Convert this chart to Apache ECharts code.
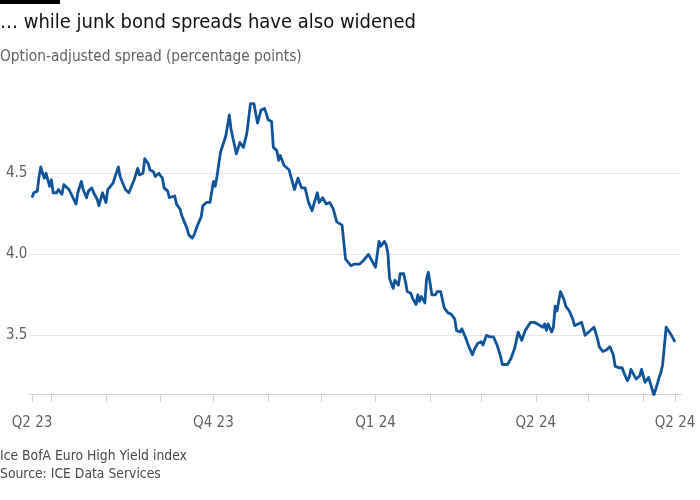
<!DOCTYPE html>
<html><head><meta charset="utf-8">
<script src="https://cdn.jsdelivr.net/npm/echarts@6/dist/echarts.min.js"></script>
<style>html,body{margin:0;padding:0;background:#fff}#c{width:700px;height:500px}</style>
</head><body><div id="c"></div>
<script>
const dates = [
'2023-06-20','2023-06-21','2023-06-23','2023-06-24','2023-06-25','2023-06-26','2023-06-27','2023-06-28','2023-06-30',
'2023-07-01','2023-07-02','2023-07-04','2023-07-05','2023-07-07','2023-07-08','2023-07-09','2023-07-11','2023-07-15','2023-07-16','2023-07-18','2023-07-19','2023-07-21','2023-07-22','2023-07-24','2023-07-25','2023-07-27','2023-07-28','2023-07-29','2023-07-30',
'2023-08-01','2023-08-02','2023-08-05','2023-08-06','2023-08-08','2023-08-09','2023-08-12','2023-08-14','2023-08-15','2023-08-17','2023-08-19','2023-08-20','2023-08-22','2023-08-23','2023-08-25','2023-08-26','2023-08-28','2023-08-29','2023-08-31',
'2023-09-02','2023-09-03','2023-09-05','2023-09-06','2023-09-09','2023-09-10','2023-09-12','2023-09-13','2023-09-14','2023-09-16','2023-09-17','2023-09-19','2023-09-20','2023-09-22','2023-09-24','2023-09-25','2023-09-27','2023-09-29',
'2023-10-01','2023-10-02','2023-10-03','2023-10-05','2023-10-08','2023-10-10','2023-10-11','2023-10-14','2023-10-16','2023-10-18','2023-10-20','2023-10-22','2023-10-24','2023-10-26','2023-10-27','2023-10-28','2023-10-30','2023-10-31',
'2023-11-01','2023-11-03','2023-11-04','2023-11-06','2023-11-07','2023-11-08','2023-11-10','2023-11-13','2023-11-14','2023-11-16','2023-11-18','2023-11-20','2023-11-22','2023-11-24','2023-11-26','2023-11-27','2023-11-29','2023-11-30',
'2023-12-02','2023-12-04','2023-12-06','2023-12-08','2023-12-10','2023-12-13','2023-12-14','2023-12-15','2023-12-16','2023-12-18','2023-12-20','2023-12-23','2023-12-25','2023-12-28','2023-12-30','2023-12-31',
'2024-01-01','2024-01-03','2024-01-04','2024-01-06','2024-01-07','2024-01-08','2024-01-09','2024-01-11','2024-01-12','2024-01-14','2024-01-15','2024-01-17','2024-01-18','2024-01-19','2024-01-21','2024-01-22','2024-01-24','2024-01-25','2024-01-26','2024-01-27','2024-01-29','2024-01-30','2024-01-31',
'2024-02-02','2024-02-04','2024-02-05','2024-02-07','2024-02-09','2024-02-11','2024-02-13','2024-02-15','2024-02-16','2024-02-18','2024-02-19','2024-02-21','2024-02-23','2024-02-25','2024-02-26','2024-02-28',
'2024-03-01','2024-03-02','2024-03-04','2024-03-06','2024-03-08','2024-03-10','2024-03-12','2024-03-13','2024-03-16','2024-03-18','2024-03-20','2024-03-22','2024-03-24','2024-03-25','2024-03-26','2024-03-27','2024-03-29','2024-03-31',
'2024-04-02','2024-04-03','2024-04-05','2024-04-06','2024-04-07','2024-04-08','2024-04-10','2024-04-11','2024-04-12','2024-04-13','2024-04-15','2024-04-17','2024-04-18','2024-04-20','2024-04-22','2024-04-23','2024-04-25','2024-04-27','2024-04-29','2024-04-30',
'2024-05-02','2024-05-04','2024-05-06','2024-05-07','2024-05-09','2024-05-11','2024-05-12','2024-05-13','2024-05-15','2024-05-16','2024-05-18','2024-05-20','2024-05-21','2024-05-23','2024-05-24','2024-05-25','2024-05-27','2024-05-28','2024-05-30','2024-05-31',
'2024-06-02','2024-06-04','2024-06-05','2024-06-06','2024-06-07','2024-06-09','2024-06-10','2024-06-11','2024-06-12','2024-06-14','2024-06-15','2024-06-17','2024-06-19'
];
const spread = [
4.35,4.38,4.39,4.48,4.54,4.50,4.47,4.50,4.42,
4.46,4.38,4.38,4.40,4.37,4.43,4.44,4.40,4.31,4.38,4.45,4.40,4.35,4.39,4.41,4.38,4.34,4.30,4.30,4.38,
4.32,4.40,4.44,4.44,4.54,4.48,4.40,4.38,4.39,4.46,4.53,4.49,4.50,4.59,4.56,4.52,4.51,4.48,4.50,
4.47,4.41,4.39,4.35,4.36,4.31,4.28,4.24,4.23,4.16,4.12,4.10,4.12,4.18,4.23,4.30,4.32,4.32,
4.45,4.42,4.48,4.63,4.73,4.86,4.77,4.62,4.69,4.66,4.75,4.93,4.93,4.81,4.80,4.89,4.90,4.87,
4.83,4.82,4.66,4.64,4.58,4.61,4.55,4.52,4.48,4.40,4.47,4.41,4.41,4.32,4.27,4.31,4.38,4.32,
4.35,4.31,4.32,4.28,4.20,4.18,4.17,3.97,3.96,3.93,3.94,3.94,3.96,4.00,3.96,3.96,
3.92,4.08,4.05,4.08,4.06,4.01,3.85,3.79,3.84,3.81,3.88,3.88,3.83,3.77,3.76,3.73,3.69,3.75,3.71,3.74,3.70,3.85,3.89,
3.75,3.75,3.77,3.77,3.67,3.64,3.63,3.60,3.53,3.52,3.54,3.49,3.43,3.38,3.41,3.45,
3.46,3.44,3.50,3.49,3.49,3.44,3.37,3.32,3.32,3.36,3.42,3.52,3.47,3.48,3.53,3.52,3.58,3.58,
3.57,3.58,3.55,3.57,3.53,3.57,3.52,3.55,3.68,3.65,3.77,3.72,3.68,3.65,3.60,3.56,3.57,3.58,3.50,3.51,
3.53,3.55,3.48,3.43,3.40,3.41,3.40,3.43,3.38,3.31,3.30,3.30,3.27,3.22,3.24,3.29,3.25,3.23,3.25,3.29,
3.21,3.24,3.24,3.17,3.13,3.20,3.24,3.27,3.32,3.55,3.55,3.50,3.46
];
const tickDates = ['2023-06-20','2023-07-01','2023-08-01','2023-09-01','2023-10-01','2023-11-01','2023-12-01',
  '2024-01-01','2024-02-01','2024-03-01','2024-04-01','2024-05-01','2024-06-01','2024-06-19'];
const labelDates = ['2023-06-20','2023-10-01','2024-01-01','2024-04-01','2024-06-19'];
const labelTexts = ['Q2 23','Q4 23','Q1 24','Q2 24','Q2 24'];
const yTicks = [3.5, 4.0, 4.5];

const title = '\u2026 while junk bond spreads have also widened';
const subtitle = 'Option-adjusted spread (percentage points)';
const notes = ['Ice BofA Euro High Yield index', 'Source: ICE Data Services'];

function ts(s) { const p = s.split('-').map(Number); return new Date(p[0], p[1] - 1, p[2]).getTime(); }
const tickTs = tickDates.map(ts);
const labelTs = labelDates.map(ts);
const seriesData = dates.map((d, i) => [ts(d), spread[i]]);

const FONT = "'Liberation Sans Narrow','DejaVu Sans Condensed','Roboto Condensed','Liberation Sans',sans-serif";
const chart = echarts.init(document.getElementById('c'));
chart.setOption({
  backgroundColor: '#ffffff',
  animation: false,
  textStyle: { fontFamily: FONT },
  grid: { left: 29, right: 19, top: 92.3, bottom: 105.7, containLabel: false },
  xAxis: {
    type: 'value',
    min: new Date(2023, 5, 18, 7).getTime(),
    max: new Date(2024, 5, 22, 10).getTime(),
    axisLine: { show: true, lineStyle: { color: '#d9d2cb', width: 1 } },
    axisTick: { show: true, customValues: tickTs, length: 8, lineStyle: { color: '#d9d2cb' } },
    axisLabel: {
      customValues: labelTs, margin: 21, color: '#66605c', fontSize: 15, fontFamily: FONT,
      formatter: function (v) { const i = labelTs.indexOf(v); return i >= 0 ? labelTexts[i] : ''; }
    },
    splitLine: { show: false }
  },
  yAxis: {
    type: 'value',
    min: 3.136, max: 5.0,
    axisLine: { show: false },
    axisTick: { show: false, customValues: yTicks },
    axisLabel: {
      customValues: yTicks, inside: false, align: 'left', margin: 23, color: '#66605c', fontSize: 15, fontFamily: FONT,
      formatter: function (v) { return v.toFixed(1); }
    },
    splitLine: { show: true, lineStyle: { color: '#ebe6e1', width: 1 } }
  },
  series: [{
    type: 'line', data: seriesData, showSymbol: false, symbol: 'none',
    lineStyle: { color: '#0f5499', width: 2.8, join: 'round' }
  }],
  graphic: [
    { type: 'rect', shape: { x: 0, y: 0, width: 60, height: 4 }, style: { fill: '#000' } },
    { type: 'text', style: { text: title, x: 0, y: 23, verticalAlign: 'middle', fill: '#111', font: 'normal 20px ' + FONT } },
    { type: 'text', style: { text: subtitle, x: 0, y: 57, verticalAlign: 'middle', fill: '#66605c', font: 'normal 15.3px ' + FONT } },
    { type: 'text', style: { text: notes[0], x: 0, y: 456, verticalAlign: 'middle', fill: '#4d4845', font: 'normal 13.8px ' + FONT } },
    { type: 'text', style: { text: notes[1], x: 0, y: 474, verticalAlign: 'middle', fill: '#4d4845', font: 'normal 13.8px ' + FONT } }
  ]
});
</script></body></html>
